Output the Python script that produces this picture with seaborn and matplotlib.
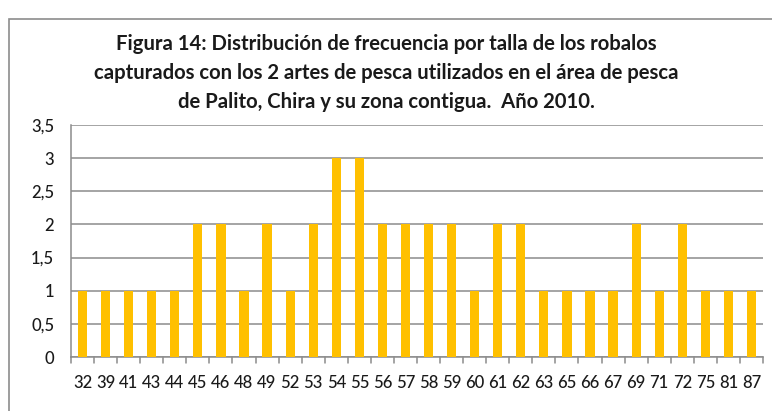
import matplotlib
matplotlib.use("Agg")
import matplotlib.pyplot as plt
import seaborn as sns
import pandas as pd
from matplotlib.patches import Rectangle
from matplotlib.ticker import FuncFormatter, MultipleLocator

tallas = ["32", "39", "41", "43", "44", "45", "46", "48", "49", "52", "53", "54", "55", "56", "57",
          "58", "59", "60", "61", "62", "63", "65", "66", "67", "69", "71", "72", "75", "81", "87"]
frecuencia = [1, 1, 1, 1, 1, 2, 2, 1, 2, 1, 2, 3, 3, 2, 2,
              2, 2, 1, 2, 2, 1, 1, 1, 1, 2, 1, 2, 1, 1, 1]
titulo = ("Figura 14: Distribución de frecuencia por talla de los robalos\n"
          "capturados con los 2 artes de pesca utilizados en el área de pesca\n"
          "de Palito, Chira y su zona contigua.  Año 2010.")

sns.set_style("white")
plt.rcParams["font.family"] = ["Lato", "DejaVu Sans"]

df = pd.DataFrame({"talla": tallas, "frecuencia": frecuencia})

fig = plt.figure(figsize=(7.72, 4.11), dpi=100)
ax = fig.add_axes([71 / 772, 1 - 357 / 411, (763 - 71) / 772, (357 - 125) / 411])

sns.barplot(data=df, x="talla", y="frecuencia", color="#FFC000", saturation=1,
            width=0.4, linewidth=0, ax=ax, zorder=3)

ax.set_xlim(-0.5, len(tallas) - 0.5)
ax.set_ylim(0, 3.5)
ax.yaxis.set_major_locator(MultipleLocator(0.5))
ax.yaxis.set_major_formatter(FuncFormatter(lambda v, p: ("%g" % v).replace(".", ",")))
ax.grid(axis="y", color="#8c8c8c", linewidth=1.1, zorder=0)
ax.set_axisbelow(True)
ax.set_xlabel("")
ax.set_ylabel("")

for s in ["top", "right"]:
    ax.spines[s].set_visible(False)
for s in ["left", "bottom"]:
    ax.spines[s].set_color("#8c8c8c")
    ax.spines[s].set_linewidth(1.1)

ax.set_xticks([i for i in range(len(tallas))])
ax.set_xticklabels(tallas)
ax.tick_params(axis="x", length=0, pad=13, labelsize=12, labelcolor="#1a1a1a")
ax.tick_params(axis="y", length=6, width=1.1, color="#8c8c8c", pad=6, labelsize=12,
               labelcolor="#1a1a1a")
for lab in ax.get_yticklabels() + ax.get_xticklabels():
    lab.set_fontweight("medium")
for i in range(len(tallas) + 1):
    ax.plot([i - 0.5, i - 0.5], [0, -0.09], color="#8c8c8c", lw=1.1, clip_on=False, zorder=4)

fig.text(0.5, 1 - 73 / 411, titulo, ha="center", va="center", fontsize=14.6,
         fontweight="bold", linespacing=1.55, color="#1a1a1a")

fig.patches.append(Rectangle((9 / 772, -0.05), 1.2, 1 - 19 / 411 + 0.05,
                             transform=fig.transFigure, fill=False,
                             edgecolor="#8c8c8c", linewidth=1.2))

fig.savefig("out.png", dpi=100)
